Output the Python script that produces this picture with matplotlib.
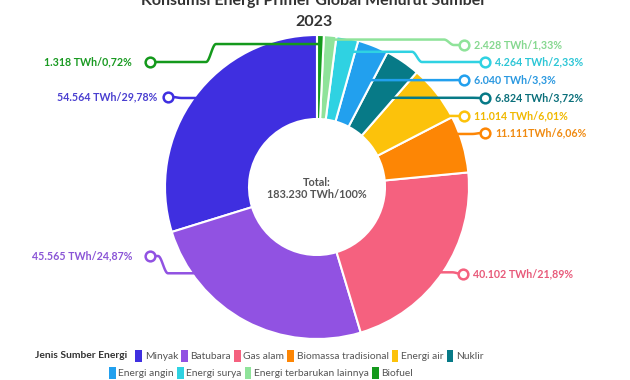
import numpy as np
import matplotlib
matplotlib.use("Agg")
import matplotlib.pyplot as plt
from matplotlib.patches import Patch

plt.rcParams['font.family'] = ['Lato', 'DejaVu Sans']

# data
sources = ["Minyak", "Batubara", "Gas alam", "Biomassa tradisional", "Energi air",
           "Nuklir", "Energi angin", "Energi surya", "Energi terbarukan lainnya", "Biofuel"]
twh = [54564, 45565, 40102, 11111, 11014, 6824, 6040, 4264, 2428, 1318]
value_labels = ["54.564 TWh/29,78%", "45.565 TWh/24,87%", "40.102 TWh/21,89%",
                "11.111TWh/6,06%", "11.014 TWh/6,01%", "6.824 TWh/3,72%",
                "6.040 TWh/3,3%", "4.264 TWh/2,33%", "2.428 TWh/1,33%", "1.318 TWh/0,72%"]
total_label = "183.230 TWh/100%"
colors = ["#3f2fe0", "#9152e2", "#f5617f", "#fd8605", "#fcc20b",
          "#077a87", "#22a0ee", "#2fd2e2", "#8fe39a", "#14991c"]
text_colors = ["#4a3fd0", "#8a55d6", "#e85a7a", "#f08a10", "#f0b800",
               "#0a6f7a", "#2a98e0", "#2cc6d6", "#86d890", "#1a9a22"]

# label layout: side, circle x, label y, bend x, position in wedge, radius, text gap
layout = [
    ("L", -149, 90, -140, 0.5, 150, 11),
    ("L", -167, -69, -154, 0.2, 150, 18),
    ("R", 146, -87, 140, 0.49, 150, 10),
    ("R", 168, 54, 160, 0.73, 145, 10),
    ("R", 147, 71, 140, 0.5, 115, 10),
    ("R", 168, 89, 160, 0.5, 108, 10),
    ("R", 147, 107, 140, 0.5, 115, 10),
    ("R", 168, 125, 100, 0.5, 138, 10),
    ("R", 147, 142, 132, 0.5, 148, 10),
    ("L", -167, 125, -106, 0.5, 143, 18),
]

fig = plt.figure(figsize=(6.3, 3.8), dpi=100)
ax = fig.add_axes([0, 0, 1, 1])

R = 152
wedges, _ = ax.pie(twh, colors=colors, startangle=90, counterclock=True, radius=R,
                   wedgeprops=dict(width=84, edgecolor="white", linewidth=1.5))

for w, lab, tc, col, (side, cx, ly, bx, frac, r_end, gap) in zip(
        wedges, value_labels, text_colors, colors, layout):
    ang = np.deg2rad(w.theta1 + frac * (w.theta2 - w.theta1))
    ex, ey = r_end * np.cos(ang), r_end * np.sin(ang)
    s = 1 if side == "R" else -1
    half = 5
    t = np.linspace(0, 1, 30)
    xs_mid = (bx - s * half) + t * 2 * s * half
    ys_mid = ey + (ly - ey) * (1 - np.cos(np.pi * t)) / 2
    xs = np.concatenate([[ex], xs_mid, [cx]])
    ys = np.concatenate([[ey], ys_mid, [ly]])
    ax.plot(xs, ys, color=col, lw=1.8, solid_capstyle="round", zorder=3)
    ax.plot(cx, ly, marker="o", ms=7, mfc="white", mec=col, mew=1.8, zorder=4)
    if side == "R":
        ax.text(cx + gap, ly, lab, ha="left", va="center", color=tc,
                fontsize=7.7, fontweight="bold")
    else:
        ax.text(cx - gap, ly, lab, ha="right", va="center", color=tc,
                fontsize=7.7, fontweight="bold")

ax.text(0, 5, "Total:", ha="center", va="center", fontsize=7.8, fontweight="bold", color="#555555")
ax.text(0, -7, total_label, ha="center", va="center", fontsize=7.8, fontweight="bold", color="#555555")

ax.set_xlim(-317, 313)
ax.set_ylim(-193, 187)
ax.set_aspect("equal")
ax.axis("off")

# title, first line partly cut at top as in the source image
fig.text(314 / 630, 1 - 5 / 380, "Konsumsi Energi Primer Global Menurut Sumber",
         ha="center", va="baseline", fontsize=11.5, fontweight="bold", color="#333333")
fig.text(314 / 630, 1 - 26 / 380, "2023", ha="center", va="baseline",
         fontsize=11.5, fontweight="bold", color="#333333")

# legend
ty = 1 - 356 / 380
title = fig.text(35 / 630, ty, "Jenis Sumber Energi", ha="left", va="center",
                 fontsize=7.4, fontweight="bold", color="#333333")
fig.canvas.draw()
bb = title.get_window_extent()
handles = [Patch(facecolor=c, edgecolor="none") for c in colors]
leg_kw = dict(frameon=False, fontsize=7.4, handlelength=0.65, handleheight=1.3,
              handletextpad=0.25, columnspacing=0.3, borderpad=0, labelcolor="#555555")
fig.legend(handles[:6], sources[:6], loc="center left", ncol=6,
           bbox_to_anchor=((bb.x1 + 3) / 630, ty), **leg_kw)
fig.legend(handles[6:], sources[6:], loc="center", ncol=4,
           bbox_to_anchor=(261 / 630, 1 - 373 / 380), **leg_kw)

fig.savefig("out.png", dpi=100)
